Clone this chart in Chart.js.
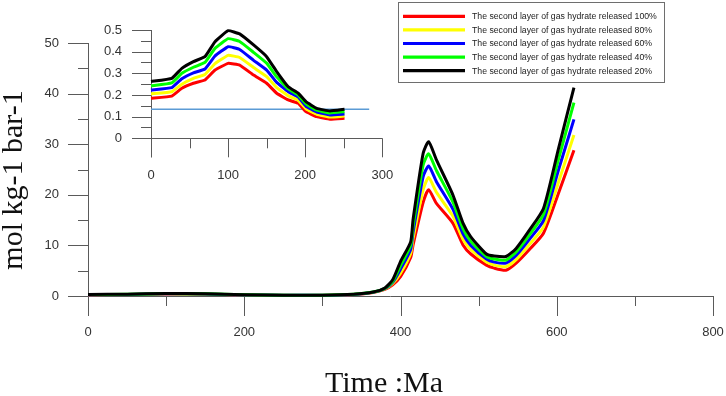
<!DOCTYPE html>
<html>
<head>
<meta charset="utf-8">
<script src="https://cdn.jsdelivr.net/npm/chart.js@4/dist/chart.umd.min.js"></script>
<style>
  html, body { margin: 0; padding: 0; background: #ffffff; }
  #wrap { position: relative; width: 726px; height: 396px; overflow: hidden; background: #fff; }
  #main { position: absolute; left: 0; top: 0; }
  #inset { position: absolute; left: 90px; top: 10px; }
</style>
</head>
<body>
<div id="wrap">
  <canvas id="main" width="726" height="396"></canvas>
  <canvas id="inset" width="320" height="180"></canvas>
</div>
<script>
// ---------------- DATA ----------------
const seriesLabels = [
  'The second layer of gas hydrate released 100%',
  'The second layer of gas hydrate released 80%',
  'The second layer of gas hydrate released 60%',
  'The second layer of gas hydrate released 40%',
  'The second layer of gas hydrate released 20%'
];
const seriesColors = ['#ff0000', '#ffff00', '#0000ff', '#00ff00', '#000000'];

// Main chart (Time, Ma)
const mainTime = [0, 50, 100, 150, 200, 250, 300, 340, 365, 380, 390, 400, 413, 416, 429, 436, 446, 467, 480, 490, 510, 520, 535, 548, 565, 583, 602, 622];
const main100 = [0.25, 0.3, 0.4, 0.35, 0.2, 0.12, 0.12, 0.3, 0.7, 1.3, 2.2, 3.8, 7.6, 10, 18.5, 21, 18.3, 14.4, 10.1, 8.3, 6.1, 5.5, 5.1, 6.5, 9.2, 12.4, 20.2, 28.8];
const main80  = [0.26, 0.31, 0.42, 0.37, 0.21, 0.13, 0.13, 0.31, 0.72, 1.4, 2.5, 4.5, 8.4, 11.3, 21, 23.4, 20.5, 15.8, 11.2, 9.2, 6.7, 6.1, 5.8, 7.2, 10.2, 13.6, 22.4, 31.8];
const main60  = [0.27, 0.32, 0.45, 0.4, 0.22, 0.14, 0.14, 0.32, 0.75, 1.45, 2.7, 5.3, 9.2, 12.5, 23.6, 25.7, 22.6, 17.2, 12.3, 10.0, 7.3, 6.7, 6.5, 8.0, 11.2, 14.9, 24.8, 34.9];
const main40  = [0.28, 0.33, 0.47, 0.42, 0.23, 0.14, 0.14, 0.33, 0.78, 1.5, 2.9, 6.0, 10.0, 13.7, 25.9, 28.1, 24.8, 18.6, 13.3, 10.8, 7.8, 7.3, 7.1, 8.7, 12.1, 16.1, 26.9, 38.2];
const main20  = [0.3, 0.35, 0.5, 0.45, 0.25, 0.15, 0.15, 0.35, 0.8, 1.6, 3.2, 6.8, 10.7, 15, 28.2, 30.5, 26.9, 20, 14.4, 11.7, 8.3, 7.9, 7.8, 9.4, 13, 17.3, 29, 41.2];

// Inset chart
const insetTime = [0, 27, 40, 55, 70, 83, 100, 115, 133, 150, 163, 178, 191, 201, 215, 232, 251];
const inset100 = [0.185, 0.195, 0.231, 0.254, 0.269, 0.315, 0.346, 0.338, 0.292, 0.254, 0.208, 0.177, 0.162, 0.123, 0.1, 0.088, 0.092];
const inset80  = [0.205, 0.215, 0.25, 0.277, 0.295, 0.345, 0.383, 0.373, 0.327, 0.285, 0.234, 0.196, 0.176, 0.136, 0.111, 0.098, 0.103];
const inset60  = [0.223, 0.234, 0.275, 0.302, 0.32, 0.38, 0.423, 0.41, 0.36, 0.315, 0.258, 0.215, 0.19, 0.148, 0.121, 0.108, 0.112];
const inset40  = [0.242, 0.256, 0.3, 0.328, 0.35, 0.415, 0.46, 0.447, 0.397, 0.347, 0.284, 0.228, 0.2, 0.159, 0.13, 0.117, 0.123];
const inset20  = [0.262, 0.277, 0.323, 0.354, 0.377, 0.446, 0.497, 0.482, 0.431, 0.377, 0.308, 0.238, 0.208, 0.169, 0.138, 0.126, 0.134];
const insetRefX = [0, 283];
const insetRefY = [0.134, 0.134];

const mainXTicks = [0, 200, 400, 600, 800];
const mainXMinor = [100, 300, 500, 700];
const mainYTicks = [0, 10, 20, 30, 40, 50];
const mainYMinor = [5, 15, 25, 35, 45];
const insetXTicks = [0, 100, 200, 300];
const insetXMinor = [50, 150, 250];
const insetYTicks = [0, 0.1, 0.2, 0.3, 0.4, 0.5];
const insetYMinor = [0.05, 0.15, 0.25, 0.35, 0.45];

const xTitle = 'Time :Ma';
const yTitle = 'mol kg-1 bar-1';

// ---------------- HELPERS ----------------
Chart.defaults.devicePixelRatio = 1;
function pts(xs, ys) { return xs.map((x, i) => ({ x: x, y: ys[i] })); }

const axisColor = '#5a5a5a';
const fontFamily = "'Liberation Sans', Arial, sans-serif";

function axesPlugin(cfg) {
  return {
    id: 'axesDraw',
    beforeDatasetsDraw(chart) {
      const ctx = chart.ctx;
      const xs = chart.scales.x, ys = chart.scales.y;
      const x0 = xs.getPixelForValue(0), y0 = ys.getPixelForValue(0);
      ctx.save();
      ctx.strokeStyle = axisColor;
      ctx.lineWidth = 1;
      ctx.beginPath();
      ctx.moveTo(x0 - cfg.major, Math.round(y0) + 0.5);
      ctx.lineTo(xs.getPixelForValue(cfg.xMax), Math.round(y0) + 0.5);
      ctx.moveTo(Math.round(x0) + 0.5, ys.getPixelForValue(cfg.yMax));
      ctx.lineTo(Math.round(x0) + 0.5, y0 + cfg.major);
      cfg.xTicks.forEach(v => { const p = Math.round(xs.getPixelForValue(v)) + 0.5; ctx.moveTo(p, y0); ctx.lineTo(p, y0 + cfg.major); });
      cfg.xMinor.forEach(v => { const p = Math.round(xs.getPixelForValue(v)) + 0.5; ctx.moveTo(p, y0); ctx.lineTo(p, y0 + cfg.minor); });
      cfg.yTicks.forEach(v => { const p = Math.round(ys.getPixelForValue(v)) + 0.5; ctx.moveTo(x0, p); ctx.lineTo(x0 - cfg.major, p); });
      cfg.yMinor.forEach(v => { const p = Math.round(ys.getPixelForValue(v)) + 0.5; ctx.moveTo(x0, p); ctx.lineTo(x0 - cfg.minor, p); });
      ctx.stroke();
      ctx.restore();
    }
  };
}

const mainDecor = {
  id: 'mainDecor',
  afterDraw(chart) {
    const ctx = chart.ctx;
    ctx.save();
    ctx.fillStyle = '#111';
    ctx.font = "30px 'Liberation Serif', 'Times New Roman', serif";
    ctx.textAlign = 'center';
    ctx.textBaseline = 'alphabetic';
    ctx.fillText(xTitle, 384, 392);
    ctx.save();
    ctx.translate(22, 180);
    ctx.rotate(-Math.PI / 2);
    ctx.fillText(yTitle, 0, 0);
    ctx.restore();

    // legend
    const bx = 398.5, by = 2.5, bw = 266, bh = 80;
    ctx.strokeStyle = '#6e6e6e';
    ctx.lineWidth = 1;
    ctx.strokeRect(bx, by, bw, bh);
    let fs = 9;
    ctx.font = fs + "px " + fontFamily;
    const w = ctx.measureText(chart.data.datasets[0].label).width;
    fs = fs * 185 / w;
    ctx.font = fs + "px " + fontFamily;
    ctx.textAlign = 'left';
    ctx.textBaseline = 'middle';
    chart.data.datasets.forEach((ds, i) => {
      const yy = 16.3 + i * 13.6;
      ctx.strokeStyle = ds.borderColor;
      ctx.lineWidth = 3.2;
      ctx.beginPath();
      ctx.moveTo(403, yy);
      ctx.lineTo(465, yy);
      ctx.stroke();
      ctx.fillStyle = '#222';
      ctx.fillText(ds.label, 472, yy + 0.5);
    });
    ctx.restore();
  }
};

function lineDatasets(xs, arrays, width, tension) {
  return arrays.map((a, i) => ({
    label: seriesLabels[i],
    data: pts(xs, a),
    borderColor: seriesColors[i],
    backgroundColor: seriesColors[i],
    borderWidth: width,
    pointRadius: 0,
    tension: tension,
    fill: false,
    clip: false,
    order: 4 - i
  }));
}

function xScale(min, max, ticks, height, size) {
  return {
    type: 'linear', min: min, max: max,
    afterBuildTicks(s) { s.ticks = ticks.map(v => ({ value: v })); },
    afterFit(s) { s.height = height; s.paddingLeft = 0; s.paddingRight = 0; },
    grid: { display: false, drawTicks: false },
    border: { display: false },
    ticks: { font: { family: fontFamily, size: size }, color: '#333', padding: 29, maxRotation: 0, minRotation: 0, autoSkip: false }
  };
}
function yScale(min, max, ticks, width, size, cb) {
  const t = { font: { family: fontFamily, size: size }, color: '#333', padding: 29, autoSkip: false };
  if (cb) t.callback = cb;
  return {
    type: 'linear', min: min, max: max,
    afterBuildTicks(s) { s.ticks = ticks.map(v => ({ value: v })); },
    afterFit(s) { s.width = width; s.paddingTop = 0; s.paddingBottom = 0; },
    grid: { display: false, drawTicks: false },
    border: { display: false },
    ticks: t
  };
}

// ---------------- MAIN CHART ----------------
new Chart(document.getElementById('main'), {
  type: 'line',
  data: { datasets: lineDatasets(mainTime, [main100, main80, main60, main40, main20], 3, 0.2) },
  options: {
    responsive: false,
    animation: false,
    layout: { padding: { left: 0, right: 13, top: 43, bottom: 0 } },
    plugins: { legend: { display: false }, tooltip: { enabled: false } },
    scales: {
      x: xScale(0, 800, mainXTicks, 100, 13),
      y: yScale(0, 50, mainYTicks, 88, 13)
    }
  },
  plugins: [axesPlugin({ major: 20, minor: 10, xMax: 800, yMax: 50, xTicks: mainXTicks, xMinor: mainXMinor, yTicks: mainYTicks, yMinor: mainYMinor }), mainDecor]
});

// ---------------- INSET CHART ----------------
const insetSets = lineDatasets(insetTime, [inset100, inset80, inset60, inset40, inset20], 3, 0.1);
insetSets.push({
  label: 'ref',
  data: pts(insetRefX, insetRefY),
  borderColor: '#5b9bd5',
  borderWidth: 1.5,
  pointRadius: 0,
  fill: false,
  clip: false,
  order: 10
});
new Chart(document.getElementById('inset'), {
  type: 'line',
  data: { datasets: insetSets },
  options: {
    responsive: false,
    animation: false,
    layout: { padding: { left: 0, right: 27.7, top: 20, bottom: 0 } },
    plugins: { legend: { display: false }, tooltip: { enabled: false } },
    scales: {
      x: xScale(0, 300, insetXTicks, 51.7, 13),
      y: yScale(0, 0.5, insetYTicks, 61, 13, v => (v === 0 ? '0' : v.toFixed(1)))
    }
  },
  plugins: [axesPlugin({ major: 19, minor: 10, xMax: 300, yMax: 0.5, xTicks: insetXTicks, xMinor: insetXMinor, yTicks: insetYTicks, yMinor: insetYMinor })]
});
</script>
</body>
</html>
